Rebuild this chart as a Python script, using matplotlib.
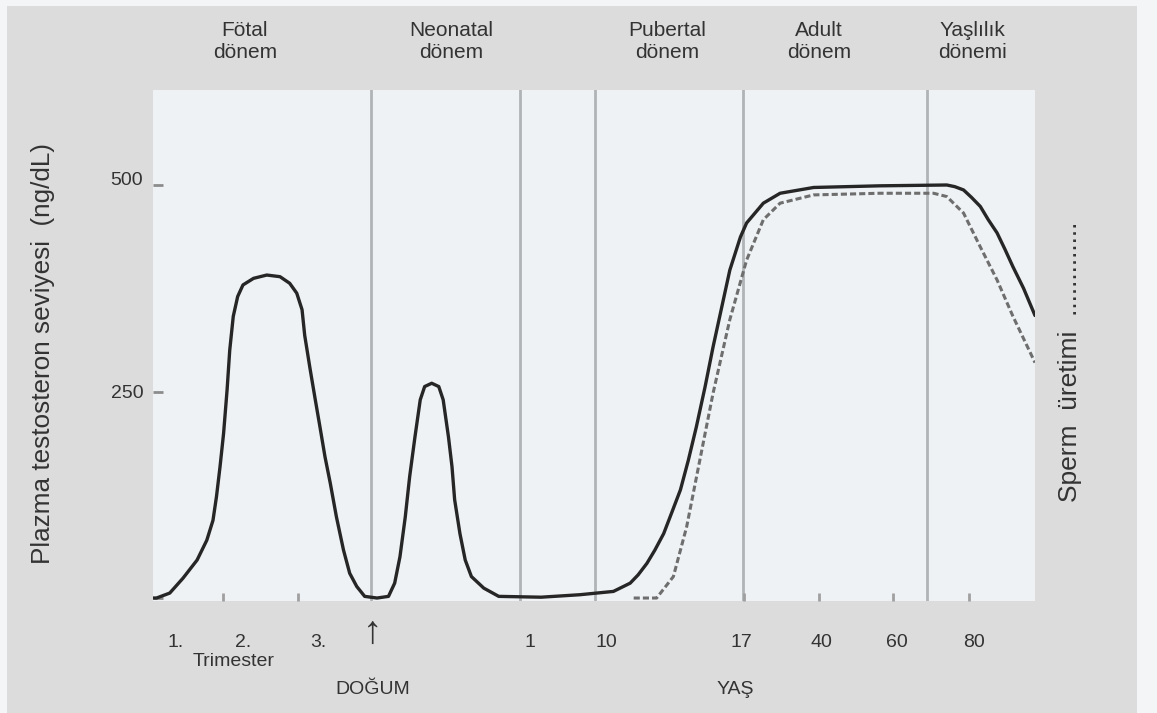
import matplotlib.pyplot as plt
from matplotlib.patches import Rectangle
from matplotlib.transforms import blended_transform_factory, ScaledTranslation

plt.rcParams['font.family'] = ['Liberation Sans', 'DejaVu Sans']

# x is a position along the time line (0 = left edge, 100 = right edge)
testo_x = [0.0, 0.4, 1.9, 3.4, 5.0, 6.1, 6.8, 7.2, 7.6, 8.0, 8.4, 8.7, 9.1, 9.6, 10.2,
           11.4, 12.9, 14.4, 15.5, 16.3, 16.9, 17.2, 17.8, 18.4, 18.9, 19.5, 20.1, 20.8,
           21.6, 22.3, 23.1, 24.0, 25.4, 26.7, 27.4, 28.0, 28.6, 29.1, 29.7, 30.3, 30.8,
           31.6, 32.4, 32.9, 33.5, 33.9, 34.2, 34.8, 35.4, 36.1, 37.5, 39.2, 44.0, 48.4,
           52.2, 54.1, 55.0, 56.0, 56.9, 57.9, 58.8, 59.8, 60.7, 61.6, 62.6, 63.5, 64.5,
           65.4, 66.6, 67.3, 69.2, 71.1, 74.9, 82.4, 90.0, 90.9, 91.9, 92.8, 93.8, 94.7,
           95.7, 96.6, 97.5, 98.7, 100.0]
testo_y = [0, 0, 6, 24, 46, 70, 94, 123, 159, 199, 252, 300, 341, 365, 379,
           387, 391, 389, 381, 369, 349, 318, 278, 240, 209, 171, 139, 98,
           58, 30, 14, 2, 0, 2, 18, 50, 98, 147, 195, 240, 256,
           260, 256, 240, 195, 159, 119, 78, 46, 26, 12, 2, 1, 4,
           8, 18, 28, 42, 58, 78, 103, 131, 167, 207, 256, 304, 353,
           397, 437, 454, 478, 490, 497, 499, 500, 498, 494, 485, 474, 458,
           442, 422, 401, 375, 342]

sperm_x = [54.5, 57.1, 59.0, 60.5, 62.0, 63.5, 65.4, 67.3, 69.2, 71.1, 74.9, 82.4,
           88.5, 90.0, 91.9, 93.8, 95.7, 97.5, 100.0]
sperm_y = [0, 0, 26, 86, 167, 248, 337, 409, 458, 478, 488, 490,
           490, 486, 466, 425, 385, 341, 285]

boundaries = [24.7, 41.6, 50.1, 66.9, 87.7]

period_labels = ['Fötal\ndönem', 'Neonatal\ndönem', 'Pubertal\ndönem', 'Adult\ndönem',
                 'Yaşlılık\ndönemi']
period_pos = [10.4, 33.8, 58.3, 75.5, 92.9]

tick_pos = [2.6, 10.2, 18.7, 24.9, 42.7, 51.4, 66.7, 75.8, 84.3, 93.1]
tick_labels = ['1.', '2.', '3.', '↑', '1', '10', '17', '40', '60', '80']
mark_pos = [7.9, 16.4, 67.0, 75.5, 83.9, 92.5]

y_ticks = [0, 250, 500]
y_tick_labels = ['', '250', '500']

W, H = 1157, 713
fig = plt.figure(figsize=(W / 100, H / 100), dpi=100)
fig.patch.set_facecolor('#f3f5f7')
fig.add_artist(Rectangle((7 / W, 0), 1130 / W, 707 / H, transform=fig.transFigure,
                         facecolor='#dcdcdc', edgecolor='none', zorder=0))

ax = fig.add_axes([153 / W, 1 - 601 / H, 882 / W, 511 / H])
ax.set_facecolor('#eef2f4')
ax.set_xlim(0, 100)
ax.set_ylim(-3.6, 615)
for s in ax.spines.values():
    s.set_visible(False)

for b in boundaries:
    ax.axvline(b, color='#b0b4b6', lw=2, zorder=1)

ax.plot(sperm_x, sperm_y, color='#6e6e6e', lw=2.2, linestyle=(0, (2, 1)), zorder=2)
ax.plot(testo_x, testo_y, color='#262626', lw=2.4, solid_joinstyle='round',
        solid_capstyle='round', zorder=3)

ax.set_yticks(y_ticks)
ax.set_yticklabels(y_tick_labels)
ax.tick_params(axis='y', direction='in', length=7, width=2, color='#8c8c8c',
               labelsize=14, labelcolor='#333333', pad=7)
# the "500" label sits a little above its tick in the original
for lbl in ax.get_yticklabels():
    if lbl.get_text() == '500':
        lbl.set_transform(lbl.get_transform() + ScaledTranslation(0, 5 / 72, fig.dpi_scale_trans))

ax.set_xticks(tick_pos)
ax.set_xticklabels(tick_labels)
ax.tick_params(axis='x', which='major', length=0, labelsize=14, labelcolor='#333333', pad=24)
for lbl in ax.get_xticklabels():
    if lbl.get_text() == '↑':
        lbl.set_fontsize(28)
        lbl.set_transform(lbl.get_transform() + ScaledTranslation(0, 14 / 72, fig.dpi_scale_trans))
ax.set_xticks(mark_pos, minor=True)
ax.tick_params(axis='x', which='minor', direction='in', length=6, width=2, color='#a0a0a0')

trans = blended_transform_factory(ax.transData, ax.transAxes)
for lab, x in zip(period_labels, period_pos):
    ax.text(x, 1.095, lab, transform=trans, ha='center', va='center', fontsize=15,
            color='#333333', linespacing=1.25)

ax.text(9.1, -0.119, 'Trimester', transform=trans, ha='center', va='center',
        fontsize=14, color='#333333')
ax.text(24.9, -0.174, 'DOĞUM', transform=trans, ha='center', va='center',
        fontsize=14, color='#333333')
ax.text(66.0, -0.174, 'YAŞ', transform=trans, ha='center', va='center',
        fontsize=14, color='#333333')

fig.text(43 / W, 1 - 354 / H, 'Plazma testosteron seviyesi  (ng/dL)', rotation=90,
         ha='center', va='center', fontsize=18.8, color='#333333')
fig.text(1070 / W, 1 - 362 / H, 'Sperm  üretimi  .............', rotation=90,
         ha='center', va='center', fontsize=19, color='#333333')

fig.savefig('out.png', dpi=100, facecolor=fig.get_facecolor())
